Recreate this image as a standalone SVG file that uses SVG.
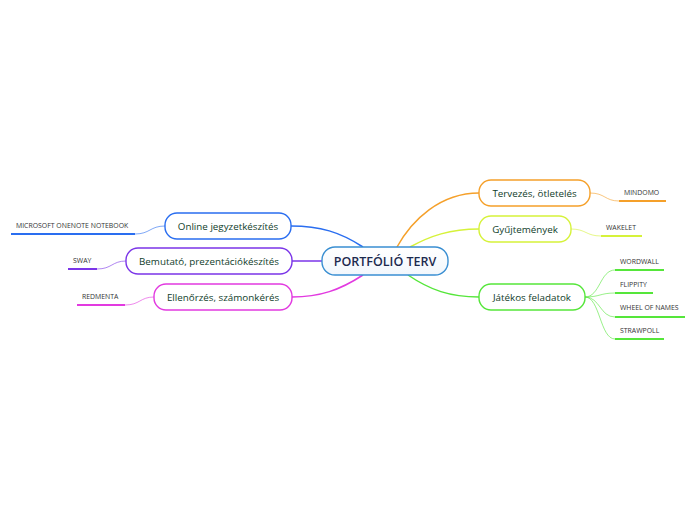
<svg xmlns="http://www.w3.org/2000/svg" width="696" height="520" viewBox="0 0 696 520">
<style>
.node{fill:#fff;stroke-width:1.4}
.nt{font-family:"Open Sans","Liberation Sans",sans-serif;font-size:9.8px;fill:#0f3d2a;text-anchor:middle}
.ct{font-family:"Open Sans","Liberation Sans",sans-serif;font-size:12.5px;font-weight:600;fill:#1c2a4f;text-anchor:middle}
.lt{font-family:"Open Sans","Liberation Sans",sans-serif;font-size:6.9px;fill:#333}
.main{fill:none;stroke-width:1.5}
.sub{fill:none;stroke-width:1;opacity:0.6}
.ul{fill:none;stroke-width:2}
</style>
<defs>
<linearGradient id="cg" x1="0" y1="0" x2="0" y2="1">
<stop offset="0" stop-color="#ffffff"/>
<stop offset="1" stop-color="#f2f7fc"/>
</linearGradient>
</defs>
<g id="connectors">
<path class="main" stroke="#f5a02a" d="M397,247 C412,220 440,193 479,193"/>
<path class="main" stroke="#d6f23a" d="M410,247 C430,236 450,229 479,229"/>
<path class="main" stroke="#55e63a" d="M408,275 C430,290 450,297 479,297"/>
<path class="main" stroke="#2a6ef0" d="M363,247 C340,232 320,226 291,226"/>
<path class="main" stroke="#7b35e8" d="M322,261 L292,261"/>
<path class="main" stroke="#e23ae0" d="M363,275 C340,290 320,297 292,297"/>
<path class="sub" stroke="#f5a02a" d="M590,193 C605,193 605,201 619,201"/>
<path class="sub" stroke="#d6f23a" d="M571,229 C586,229 586,236 601,236"/>
<path class="sub" stroke="#55e63a" d="M585,297 C600,297 600,270 615,270"/>
<path class="sub" stroke="#55e63a" d="M585,297 C600,297 600,293 615,293"/>
<path class="sub" stroke="#55e63a" d="M585,297 C600,297 600,317 615,317"/>
<path class="sub" stroke="#55e63a" d="M585,297 C600,297 600,339 615,339"/>
<path class="sub" stroke="#2a6ef0" d="M165,226 C150,226 150,234 135,234"/>
<path class="sub" stroke="#7b35e8" d="M126,261 C112,261 112,269 97,269"/>
<path class="sub" stroke="#e23ae0" d="M154,297 C140,297 140,305 125,305"/>
</g>
<g id="central">
<rect x="322" y="247" width="126" height="28" rx="13" fill="url(#cg)" stroke="#3a8fd2" stroke-width="1.4"/>
<text class="ct" x="385" y="265.5">PORTFÓLIÓ TERV</text>
</g>
<g id="tervezes">
<rect class="node" x="479" y="180" width="111" height="26" rx="12" stroke="#f5a02a"/>
<text class="nt" x="534.5" y="196.5">Tervezés, ötletelés</text>
</g>
<g id="gyujtemenyek">
<rect class="node" x="479" y="216" width="92" height="26" rx="12" stroke="#d6f23a"/>
<text class="nt" x="525" y="232.5">Gyűjtemények</text>
</g>
<g id="jatekos">
<rect class="node" x="479" y="284" width="106" height="26" rx="12" stroke="#55e63a"/>
<text class="nt" x="532" y="300.5">Játékos feladatok</text>
</g>
<g id="online">
<rect class="node" x="165" y="213" width="126" height="26" rx="12" stroke="#2a6ef0"/>
<text class="nt" x="228" y="229.5">Online jegyzetkészítés</text>
</g>
<g id="bemutato">
<rect class="node" x="126" y="248" width="166" height="26" rx="12" stroke="#7b35e8"/>
<text class="nt" x="209" y="264.5">Bemutató, prezentációkészítés</text>
</g>
<g id="ellenorzes">
<rect class="node" x="154" y="284" width="138" height="26" rx="12" stroke="#e23ae0"/>
<text class="nt" x="223" y="300.5">Ellenőrzés, számonkérés</text>
</g>
<g id="mindomo">
<path class="ul" stroke="#f5a02a" d="M619,201 H666"/>
<text class="lt" x="624" y="195">MINDOMO</text>
</g>
<g id="wakelet">
<path class="ul" stroke="#d6f23a" d="M601,236 H642"/>
<text class="lt" x="606" y="230">WAKELET</text>
</g>
<g id="wordwall">
<path class="ul" stroke="#55e63a" d="M615,270 H664"/>
<text class="lt" x="620" y="264">WORDWALL</text>
</g>
<g id="flippity">
<path class="ul" stroke="#55e63a" d="M615,293 H653"/>
<text class="lt" x="620" y="287">FLIPPITY</text>
</g>
<g id="wheel">
<path class="ul" stroke="#55e63a" d="M615,317 H685"/>
<text class="lt" x="620" y="310">WHEEL OF NAMES</text>
</g>
<g id="strawpoll">
<path class="ul" stroke="#55e63a" d="M615,339 H664"/>
<text class="lt" x="620" y="333">STRAWPOLL</text>
</g>
<g id="onenote">
<path class="ul" stroke="#2a6ef0" d="M11,234 H135"/>
<text class="lt" x="16" y="228">MICROSOFT ONENOTE NOTEBOOK</text>
</g>
<g id="sway">
<path class="ul" stroke="#7b35e8" d="M68,269 H97"/>
<text class="lt" x="73" y="263">SWAY</text>
</g>
<g id="redmenta">
<path class="ul" stroke="#e23ae0" d="M77,305 H125"/>
<text class="lt" x="82" y="299">REDMENTA</text>
</g>
</svg>
